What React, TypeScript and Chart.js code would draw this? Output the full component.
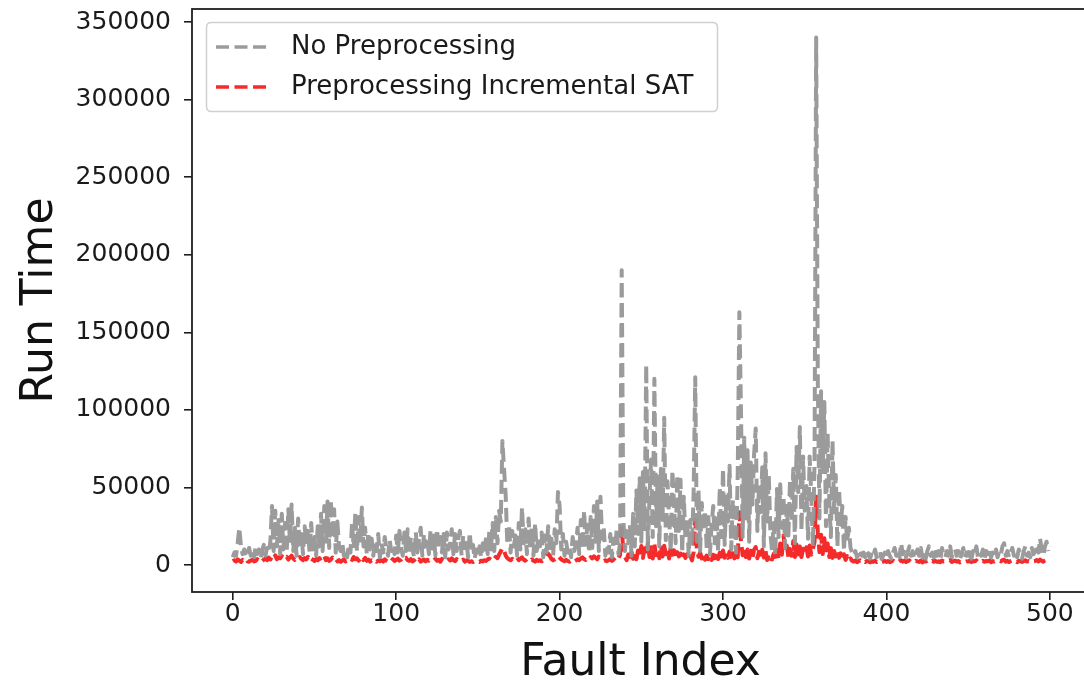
import React, { useEffect, useRef } from "react";
import { Chart, registerables } from "chart.js";

Chart.register(...registerables);

// Run time values, in thousands
const noPreprocessingK: number[] = [
  5, 8, 6, 14, 24, 12, 7, 10, 5, 8,
  11, 6, 9, 5, 12, 7, 10, 4, 9, 13,
  6, 11, 8, 15, 38, 9, 35, 12, 29, 7,
  33, 10, 27, 8, 36, 14, 39, 9, 24, 6,
  30, 11, 20, 7, 25, 13, 22, 8, 27, 10,
  18, 6, 25, 12, 33, 9, 38, 15, 41, 11,
  42, 17, 36, 8, 28, 12, 9, 14, 6, 10,
  5, 13, 8, 27, 11, 34, 9, 31, 14, 37,
  12, 24, 7, 21, 10, 17, 6, 15, 9, 20,
  5, 14, 8, 18, 11, 6, 16, 9, 13, 7,
  19, 8, 22, 11, 6, 21, 9, 23, 7, 18,
  10, 5, 21, 8, 17, 24, 6, 20, 12, 17,
  7, 22, 9, 19, 6, 23, 11, 18, 8, 20,
  5, 21, 10, 14, 23, 7, 20, 9, 17, 22,
  6, 19, 11, 16, 5, 21, 8, 13, 4, 10,
  6, 12, 5, 14, 8, 18, 7, 22, 10, 27,
  9, 31, 14, 35, 28, 80, 62, 45, 13, 26,
  8, 22, 12, 19, 6, 27, 10, 37, 14, 23,
  7, 30, 11, 24, 6, 27, 9, 18, 12, 21,
  5, 19, 8, 25, 11, 17, 6, 23, 14, 47,
  38, 10, 20, 6, 15, 8, 12, 5, 18, 9,
  14, 24, 7, 29, 10, 35, 13, 26, 8, 31,
  11, 38, 15, 41, 9, 44, 17, 24, 6, 13,
  8, 20, 5, 17, 11, 24, 7, 14, 190, 30,
  9, 22, 14, 26, 6, 33, 12, 48, 20, 56,
  15, 60, 23, 129, 10, 44, 68, 18, 120, 25,
  57, 12, 62, 29, 95, 16, 54, 31, 9, 61,
  40, 14, 58, 22, 55, 8, 44, 17, 30, 6,
  29, 12, 46, 121, 15, 48, 9, 40, 22, 35,
  11, 31, 7, 26, 38, 14, 33, 9, 50, 18,
  62, 13, 44, 28, 64, 10, 42, 23, 8, 59,
  163, 99, 18, 82, 30, 74, 15, 66, 39, 71,
  88, 22, 52, 34, 63, 12, 72, 28, 58, 20,
  9, 27, 6, 49, 18, 52, 24, 44, 11, 38,
  19, 55, 28, 62, 14, 76, 47, 89, 22, 70,
  35, 51, 17, 70, 45, 12, 66, 340, 119, 30,
  112, 60, 105, 25, 85, 42, 18, 80, 34, 58,
  12, 49, 26, 38, 9, 31, 15, 24, 11, 8,
  6, 9, 5, 7, 10, 6, 8, 5, 9, 7,
  4, 8, 6, 10, 5, 7, 9, 4, 6, 8,
  5, 9, 6, 4, 8, 11, 6, 9, 5, 14,
  7, 10, 5, 8, 12, 6, 9, 4, 7, 10,
  6, 11, 5, 8, 4, 9, 12, 6, 8, 5,
  10, 6, 9, 4, 11, 7, 5, 9, 6, 12,
  5, 8, 10, 6, 9, 4, 7, 11, 5, 8,
  6, 10, 4, 9, 7, 12, 5, 8, 6, 10,
  4, 9, 7, 11, 5, 8, 6, 10, 5, 9,
  7, 12, 14, 6, 9, 5, 8, 11, 6, 9,
  5, 10, 7, 4, 9, 12, 6, 8, 5, 11,
  7, 9, 13, 8, 17, 10, 6, 12, 15, 9,
];

const incrementalSatK: number[] = [
  2.5, 3.1, 2.2, 3.6, 2.8, 2.0, 3.3, 2.6, 3.9, 2.4,
  2.1, 2.9, 3.4, 2.3, 2.7, 3.8, 2.2, 3.0, 2.5, 3.5,
  4.2, 3.1, 4.8, 3.6, 5.5, 4.1, 6.2, 3.8, 5.0, 4.4,
  5.8, 3.9, 4.6, 5.3, 3.5, 4.9, 6.0, 4.2, 3.3, 4.7,
  3.8, 5.1, 4.0, 3.2, 4.5, 3.6, 5.2, 2.9, 4.1, 3.4,
  2.6, 3.9, 3.0, 4.4, 2.8, 3.6, 5.6, 3.1, 4.2, 2.7,
  3.5, 4.8, 2.9, 3.7, 2.4, 3.2, 2.1, 2.8, 3.6, 2.3,
  2.9, 3.8, 4.5, 3.3, 5.1, 3.7, 4.3, 2.8, 3.9, 5.4,
  3.2, 4.6, 2.7, 3.5, 2.2, 3.0, 2.6, 3.4, 2.1, 2.9,
  2.4, 3.1, 2.2, 3.6, 2.7, 2.0, 3.3, 2.5, 3.8, 2.6,
  3.2, 4.1, 2.8, 3.5, 5.0, 3.9, 4.6, 3.1, 2.7, 3.8,
  2.3, 3.0, 4.4, 2.6, 3.7, 2.2, 2.9, 3.5, 2.4, 3.3,
  2.8, 3.6, 2.5, 3.2, 4.0, 2.7, 3.4, 2.1, 3.9, 2.6,
  3.0, 2.4, 3.7, 2.9, 4.3, 3.1, 2.5, 3.8, 2.8, 3.3,
  2.6, 3.5, 2.2, 3.0, 2.7, 2.0, 2.4, 1.9, 2.6, 2.1,
  2.5, 2.0, 2.8, 2.3, 3.1, 2.6, 3.7, 4.2, 3.3, 4.8,
  3.9, 5.3, 4.4, 6.8, 8.7, 11.0, 9.4, 6.1, 4.5, 3.6,
  3.1, 4.0, 2.7, 3.5, 4.6, 3.2, 4.1, 5.0, 3.4, 2.8,
  3.9, 3.0, 2.5, 3.6, 2.8, 2.2, 3.4, 2.6, 3.1, 2.4,
  3.2, 4.5, 6.3, 7.4, 5.8, 3.9, 3.0, 3.7, 4.4, 5.9,
  4.8, 3.6, 2.9, 2.4, 3.3, 2.6, 2.1, 2.8, 3.5, 2.3,
  2.9, 3.7, 3.1, 4.2, 4.9, 3.8, 3.2, 4.5, 3.6, 5.1,
  4.3, 5.6, 4.6, 3.7, 5.4, 4.1, 3.2, 2.6, 3.0, 2.5,
  3.1, 3.8, 2.7, 3.5, 4.6, 3.2, 4.4, 6.5, 24.0, 9.0,
  5.2, 3.1, 6.8, 3.4, 8.2, 4.0, 7.7, 3.8, 9.4, 5.0,
  12.2, 4.6, 10.8, 6.0, 13.9, 5.1, 11.4, 4.2, 13.5, 6.3,
  10.2, 4.4, 12.8, 5.5, 12.4, 7.0, 9.7, 4.2, 11.8, 6.6,
  9.4, 3.9, 8.3, 5.5, 7.4, 3.7, 6.9, 4.6, 6.8, 3.2,
  5.6, 3.0, 8.1, 29.0, 9.5, 5.3, 8.0, 4.2, 7.2, 3.4,
  6.1, 3.7, 5.6, 3.2, 6.6, 4.4, 7.8, 3.9, 8.0, 4.2,
  9.3, 4.7, 7.9, 4.6, 8.7, 3.8, 7.6, 4.3, 9.1, 5.0,
  34.0, 15.2, 6.3, 11.4, 5.1, 10.0, 4.2, 9.2, 4.4, 9.8,
  11.6, 4.3, 8.6, 3.9, 9.8, 4.8, 8.9, 3.2, 7.3, 4.0,
  3.6, 7.3, 3.1, 9.7, 4.2, 13.9, 6.6, 19.0, 8.5, 12.4,
  5.2, 10.4, 6.0, 15.5, 5.1, 13.2, 6.8, 11.9, 5.1, 10.5,
  6.7, 11.4, 5.5, 12.6, 6.7, 10.5, 14.8, 44.0, 21.0, 8.3,
  19.5, 7.1, 17.2, 6.4, 13.8, 5.1, 10.9, 4.6, 9.0, 5.5,
  8.7, 4.6, 7.5, 3.1, 6.9, 3.3, 5.8, 2.9, 4.2, 2.7,
  2.2, 2.9, 1.8, 2.5, 3.0, 2.0, 2.7, 1.9, 2.6, 2.3,
  1.7, 2.4, 2.1, 2.8, 1.9, 2.5, 3.0, 1.8, 2.2, 2.7,
  2.0, 2.6, 1.8, 2.3, 2.9, 2.1, 2.5, 1.7, 2.4, 3.1,
  2.2, 2.8, 1.9, 2.6, 3.0, 2.1, 2.4, 1.8, 2.7, 2.3,
  2.0, 2.9, 1.7, 2.5, 2.2, 2.8, 3.1, 1.9, 2.6, 2.1,
  2.7, 2.0, 2.4, 1.8, 2.9, 2.3, 2.6, 2.0, 2.8, 3.2,
  1.9, 2.5, 2.9, 2.1, 2.6, 1.7, 2.3, 2.8, 2.0, 2.4,
  2.2, 2.9, 1.8, 2.6, 2.3, 3.0, 2.0, 2.5, 1.9, 2.7,
  2.1, 2.6, 2.4, 2.9, 1.8, 2.5, 2.2, 2.8, 2.0, 2.6,
  2.3, 3.1, 3.4, 2.2, 2.7, 1.9, 2.5, 2.9, 2.1, 2.6,
  1.8, 2.7, 2.3, 2.0, 2.6, 3.0, 2.2, 2.5, 1.9, 2.8,
  2.4, 2.6, 3.2, 2.3, 3.5, 2.7, 2.1, 2.9, 3.3, 2.6,
];

const faultIndex: number[] = noPreprocessingK.map((_, i) => i);
const xTickValues = [0, 100, 200, 300, 400, 500];
const yTickValues = [0, 50000, 100000, 150000, 200000, 250000, 300000, 350000];
const seriesLabels = ["No Preprocessing", "Preprocessing Incremental SAT"];
const seriesColors = ["rgba(150,150,150,0.95)", "rgba(244,24,24,0.92)"];
const xAxisTitle = "Fault Index";
const yAxisTitle = "Run Time";

const FONT = '"DejaVu Sans", "Liberation Sans", sans-serif';
const DASH = [14, 6];
const LINE_W = 4;

const framePlugin = {
  id: "frame",
  afterDraw(chart: any) {
    const { ctx, chartArea } = chart;
    ctx.save();
    ctx.strokeStyle = "#1e1e1e";
    ctx.lineWidth = 1.8;
    ctx.setLineDash([]);
    ctx.strokeRect(chartArea.left, chartArea.top, chartArea.right - chartArea.left, chartArea.bottom - chartArea.top);
    ctx.restore();
  },
};

const legendPlugin = {
  id: "mplLegend",
  afterDraw(chart: any) {
    const { ctx } = chart;
    ctx.save();
    const x = 206.5, y = 22.5, w = 511, h = 89, r = 5;
    ctx.beginPath();
    ctx.moveTo(x + r, y);
    ctx.lineTo(x + w - r, y);
    ctx.quadraticCurveTo(x + w, y, x + w, y + r);
    ctx.lineTo(x + w, y + h - r);
    ctx.quadraticCurveTo(x + w, y + h, x + w - r, y + h);
    ctx.lineTo(x + r, y + h);
    ctx.quadraticCurveTo(x, y + h, x, y + h - r);
    ctx.lineTo(x, y + r);
    ctx.quadraticCurveTo(x, y, x + r, y);
    ctx.closePath();
    ctx.fillStyle = "rgba(255,255,255,0.8)";
    ctx.fill();
    ctx.strokeStyle = "#d0d0d0";
    ctx.lineWidth = 1.5;
    ctx.stroke();
    const rows = [47, 87];
    seriesLabels.forEach((label, i) => {
      const ry = rows[i];
      ctx.beginPath();
      ctx.setLineDash([13, 5.5]);
      ctx.lineCap = "butt";
      ctx.strokeStyle = seriesColors[i];
      ctx.lineWidth = 3.5;
      ctx.moveTo(216, ry);
      ctx.lineTo(268, ry);
      ctx.stroke();
      ctx.setLineDash([]);
      ctx.fillStyle = "#1a1a1a";
      ctx.font = `26px ${FONT}`;
      ctx.textBaseline = "middle";
      ctx.textAlign = "left";
      ctx.fillText(label, 291, ry);
    });
    ctx.restore();
  },
};

export default function App() {
  const canvasRef = useRef<HTMLCanvasElement | null>(null);

  useEffect(() => {
    if (!canvasRef.current) return;
    const datasets = [noPreprocessingK, incrementalSatK].map((vals, i) => ({
      label: seriesLabels[i],
      data: vals.map((v, j) => ({ x: faultIndex[j], y: v * 1000 })),
      borderColor: seriesColors[i],
      backgroundColor: seriesColors[i],
      borderWidth: LINE_W,
      borderDash: DASH,
      borderCapStyle: "butt" as const,
      borderJoinStyle: "round" as const,
      pointRadius: 0,
      tension: 0,
      fill: false,
    }));

    const chart = new Chart(canvasRef.current, {
      type: "line",
      data: { datasets },
      options: {
        animation: false,
        responsive: false,
        devicePixelRatio: 1,
        layout: { padding: { top: 9, right: 7, left: 0, bottom: 0 } },
        plugins: { legend: { display: false }, tooltip: { enabled: false } },
        scales: {
          x: {
            type: "linear",
            min: -24.95,
            max: 523.95,
            afterBuildTicks: (scale: any) => {
              scale.ticks = xTickValues.map((v) => ({ value: v }));
            },
            afterFit: (scale: any) => {
              scale.height = 94;
              scale.paddingLeft = 0;
              scale.paddingRight = 0;
            },
            border: { display: false },
            grid: {
              drawOnChartArea: false,
              drawTicks: true,
              tickLength: 8,
              color: "#1e1e1e",
              lineWidth: 1.6,
            },
            ticks: {
              padding: -1,
              color: "#1a1a1a",
              font: { family: FONT, size: 25 },
              maxRotation: 0,
              autoSkip: false,
              callback: (v: any) => String(v),
            },
            title: {
              display: true,
              text: xAxisTitle,
              color: "#111",
              font: { family: FONT, size: 44, lineHeight: 1 },
              padding: { top: 0, bottom: 0 },
            },
          },
          y: {
            type: "linear",
            min: -17400,
            max: 358400,
            afterBuildTicks: (scale: any) => {
              scale.ticks = yTickValues.map((v) => ({ value: v }));
            },
            afterFit: (scale: any) => {
              scale.width = 192;
              scale.paddingTop = 0;
              scale.paddingBottom = 0;
            },
            border: { display: false },
            grid: {
              drawOnChartArea: false,
              drawTicks: true,
              tickLength: 8,
              color: "#1e1e1e",
              lineWidth: 1.6,
            },
            ticks: {
              padding: 13,
              color: "#1a1a1a",
              font: { family: FONT, size: 25 },
              autoSkip: false,
              callback: (v: any) => String(v),
            },
            title: {
              display: true,
              text: yAxisTitle,
              color: "#111",
              font: { family: FONT, size: 44, lineHeight: 1 },
              padding: { top: 19, bottom: 0 },
            },
          },
        },
      },
      plugins: [framePlugin, legendPlugin],
    });
    return () => chart.destroy();
  }, []);

  return (
    <div
      style={{
        position: "absolute",
        left: 0,
        top: 0,
        width: 1084,
        height: 686,
        overflow: "hidden",
        background: "#fff",
      }}
    >
      <canvas ref={canvasRef} width={1096} height={686} style={{ display: "block" }} />
    </div>
  );
}
